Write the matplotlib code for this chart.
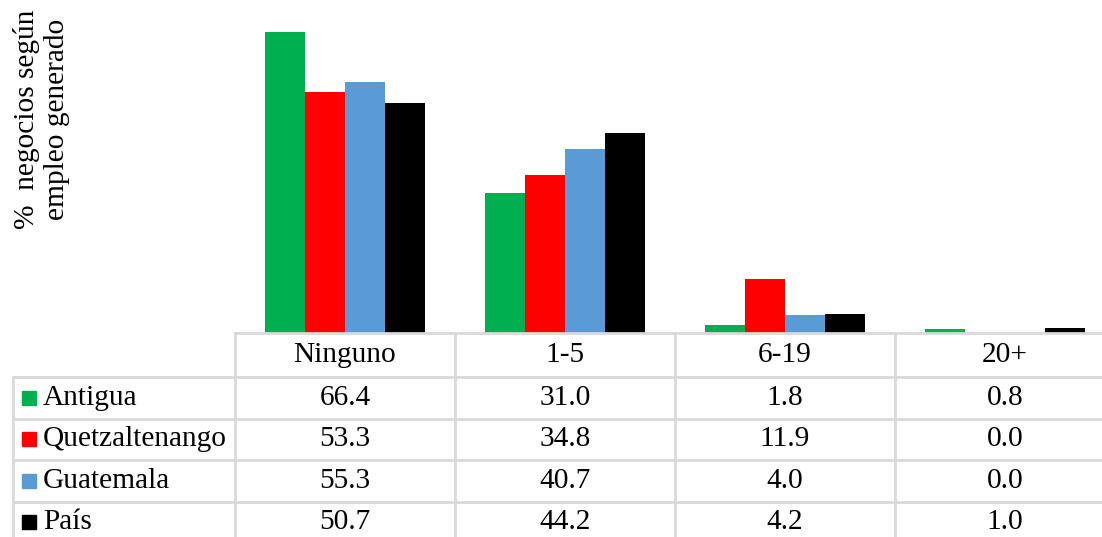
import numpy as np
import matplotlib.pyplot as plt
from matplotlib.lines import Line2D
from matplotlib.patches import Rectangle

categories = ["Ninguno", "1-5", "6-19", "20+"]
series = ["Antigua", "Quetzaltenango", "Guatemala", "País"]
antigua = [66.4, 31.0, 1.8, 0.8]
quetzaltenango = [53.3, 34.8, 11.9, 0.0]
guatemala = [55.3, 40.7, 4.0, 0.0]
pais = [50.7, 44.2, 4.2, 1.0]
colors = ["#00b050", "#ff0000", "#5b9bd5", "#000000"]

values = [antigua, quetzaltenango, guatemala, pais]

plt.rcParams['font.family'] = ['Liberation Serif', 'DejaVu Serif']
FS = 21.2
W, H = 1102, 537
fig = plt.figure(figsize=(W / 100, H / 100), dpi=100)

def fx(x):
    return x / W

def fy(y):
    return 1 - y / H

# plot area (pixel layout), extends past right edge like the original
x0, x1, ybase, ytop = 235, 1115, 333, 0
ax = fig.add_axes([fx(x0), fy(ybase), fx(x1 - x0), (ybase - ytop) / H])
n = len(categories)
xs = np.arange(n)
bw = 40 / 220
for i, (vals, c) in enumerate(zip(values, colors)):
    ax.bar(xs + (i - 1.5) * bw, vals, width=bw, color=c)
ax.set_xlim(-0.5, n - 0.5)
ax.set_ylim(0, 333 / 4.53)
ax.axis('off')

fig.text(fx(42), fy(119), "%  negocios según\nempleo generado", rotation=90,
         ha='center', va='center', multialignment='center', fontsize=FS)

# data table below the chart
grid = '#d9d9d9'
lw = 2
col_edges = [x0 + 220 * k for k in range(n + 1)]
row_edges = [333, 377, 418.5, 460, 501.5, 543]

def hline(y, xa, xb):
    fig.add_artist(Line2D([fx(xa), fx(xb)], [fy(y), fy(y)], color=grid, lw=lw))

def vline(x, ya, yb):
    fig.add_artist(Line2D([fx(x), fx(x)], [fy(ya), fy(yb)], color=grid, lw=lw))

hline(row_edges[0], x0, x1)
for y in row_edges[1:-1]:
    hline(y, 13, x1)
vline(13, row_edges[1], H)
for x in col_edges:
    vline(x, row_edges[0], H)

for j, cat in enumerate(categories):
    cx = (col_edges[j] + col_edges[j + 1]) / 2
    cy = (row_edges[0] + row_edges[1]) / 2
    fig.text(fx(cx), fy(cy), cat, ha='center', va='center', fontsize=FS)

for i, (name, vals, c) in enumerate(zip(series, values, colors)):
    cy = (row_edges[i + 1] + row_edges[i + 2]) / 2
    if i == len(series) - 1:
        cy = 522
    fig.add_artist(Rectangle((fx(22), fy(cy + 7)), fx(14), 14 / H,
                             color=c, transform=fig.transFigure))
    fig.text(fx(43), fy(cy), name, ha='left', va='center', fontsize=FS)
    for j, v in enumerate(vals):
        cx = (col_edges[j] + col_edges[j + 1]) / 2
        fig.text(fx(cx), fy(cy), f"{v:.1f}", ha='center', va='center', fontsize=FS)

fig.savefig("out.png", dpi=100)
